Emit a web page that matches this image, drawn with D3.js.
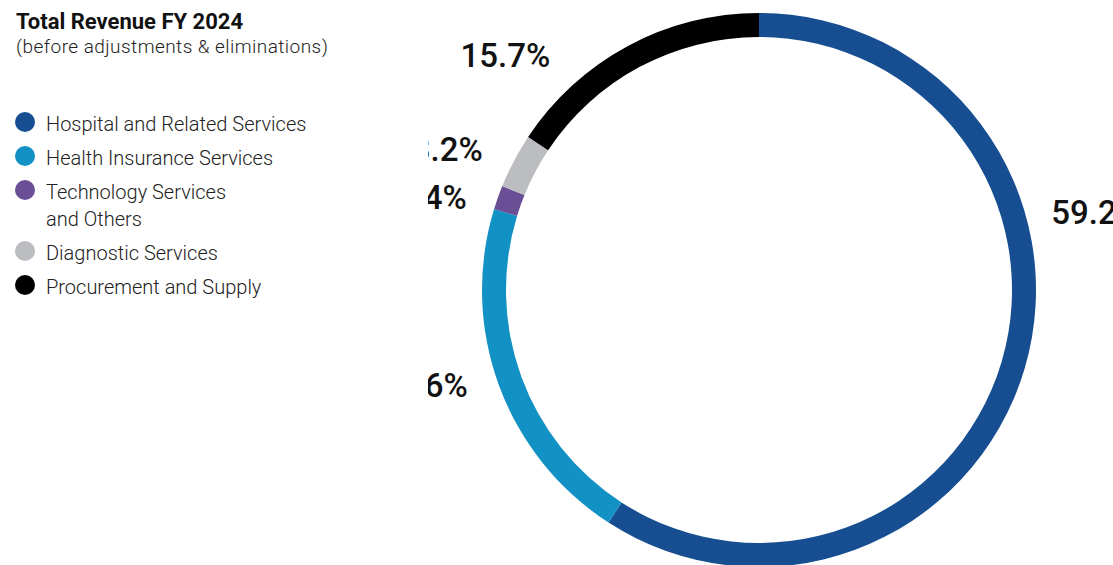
<!doctype html>
<html>
<head>
<meta charset="utf-8">
<script src="https://cdn.jsdelivr.net/npm/d3@7"></script>
<style>
  html, body { margin: 0; padding: 0; background: #fff; }
  svg { display: block; font-family: Roboto, "Noto Sans", sans-serif; }
</style>
</head>
<body>
<script>
// Revenue share by segment, FY 2024 (percent)
const categories = [
  "Hospital and Related Services",
  "Health Insurance Services",
  "Technology Services\nand Others",
  "Diagnostic Services",
  "Procurement and Supply"
];
const shares = [59.2, 20.6, 1.4, 3.2, 15.7];
const colors = ["#164e91", "#1291c4", "#6a4e96", "#bcbdc0", "#000000"];

const width = 1113, height = 565;
const svg = d3.select("body").append("svg")
    .attr("width", width)
    .attr("height", height);

// title
svg.append("text")
    .attr("x", 16).attr("y", 29)
    .attr("font-size", 22).attr("font-weight", 700).attr("fill", "#111")
    .text("Total Revenue FY 2024");
svg.append("text")
    .attr("x", 16).attr("y", 53)
    .attr("font-size", 19).attr("font-weight", 300).attr("fill", "#222")
    .attr("letter-spacing", 0.45)
    .text("(before adjustments & eliminations)");

// legend
let ly = 122;
const legend = svg.append("g");
categories.forEach((name, i) => {
  const lines = name.split("\n");
  legend.append("circle")
      .attr("cx", 25).attr("cy", ly).attr("r", 10)
      .attr("fill", colors[i]);
  const t = legend.append("text")
      .attr("x", 46).attr("y", ly + 9)
      .attr("font-size", 20).attr("font-weight", 300).attr("fill", "#222");
  lines.forEach((l, j) => t.append("tspan").attr("x", 46).attr("dy", j ? 27 : 0).text(l));
  ly += 34 + (lines.length - 1) * 27;
});

// donut
const cx = 759, cy = 290, rOuter = 277, rInner = 253;
svg.append("clipPath").attr("id", "panel")
  .append("rect").attr("x", 428).attr("y", 0).attr("width", width - 428).attr("height", height);

const chart = svg.append("g").attr("clip-path", "url(#panel)")
  .append("g").attr("transform", `translate(${cx},${cy})`);

const pie = d3.pie().sort(null).value(d => d);
const arcs = pie(shares);
const arc = d3.arc().innerRadius(rInner).outerRadius(rOuter);

chart.selectAll("path.slice")
  .data(arcs)
  .join("path")
    .attr("class", "slice")
    .attr("d", arc)
    .attr("fill", (d, i) => colors[i]);

// labels sit on an ellipse around the ring; some are moved by hand
const lrx = 310, lry = 277;
const nudge = {0: [-5, -156], 3: [-2, -12], 4: [-62, 9]};
chart.selectAll("text.lab")
  .data(arcs)
  .join("text")
    .attr("class", "lab")
    .each(function(d, i) {
      const a = (d.startAngle + d.endAngle) / 2;
      const [nx, ny] = nudge[i] || [0, 0];
      const x = Math.sin(a) * lrx + nx;
      const y = -Math.cos(a) * lry + ny;
      d3.select(this)
        .attr("x", x).attr("y", y)
        .attr("dy", "0.36em")
        .attr("text-anchor", Math.sin(a) >= 0 ? "start" : "end");
    })
    .attr("font-size", 33).attr("font-weight", 500).attr("fill", "#111")
    .text(d => d3.format(".1f")(d.data) + "%");
</script>
</body>
</html>
